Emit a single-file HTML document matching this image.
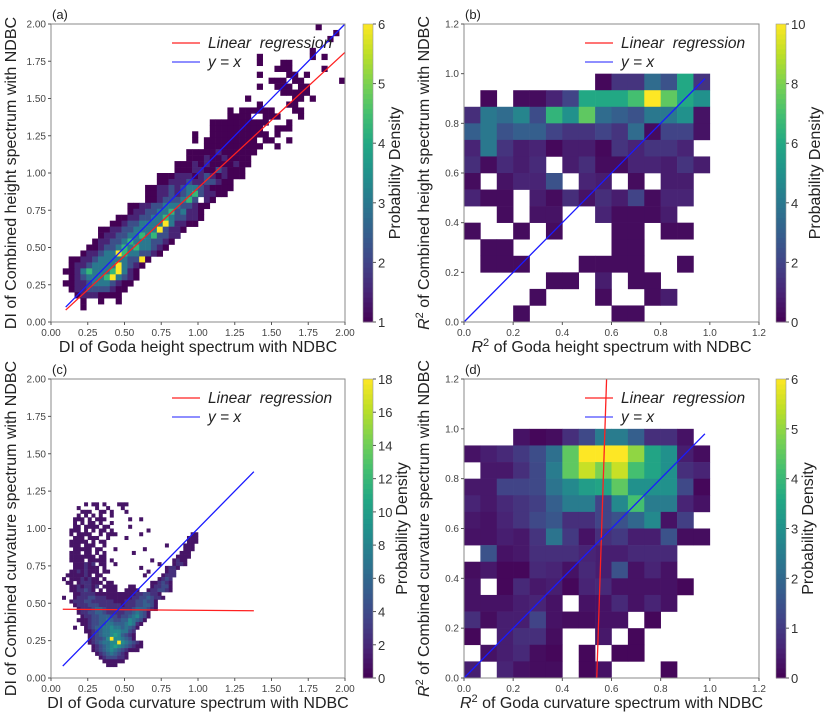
<!DOCTYPE html>
<html><head><meta charset="utf-8"><style>
body{margin:0;background:#fff;}
svg{display:block;font-family:"Liberation Sans","DejaVu Sans",sans-serif;}
</style></head><body>
<svg id="fig" width="825" height="718" viewBox="0 0 825 718" xmlns="http://www.w3.org/2000/svg"></svg>
<script>
// ---------- DATA ----------
const aRows = [
[[45,"1"]],[[48,"1"]],[[47,"1"]],[],[[44,"1"]],
[[35,"1"],[44,"1"],[46,"1"]],[[35,"1"],[39,"11"]],[[38,"111"],[46,"1"]],
[[35,"1"],[40,"11"],[43,"1"]],[[37,"111"],[41,"11"],[49,"1"]],
[[35,"1"],[38,"111"],[42,"11"]],[[39,"111"],[42,"11"]],[[33,"1"],[41,"11"],[44,"1"]],
[[35,"1"],[40,"11"]],[[30,"1"],[32,"111111"],[41,"11"]],[[30,"1111"],[36,"111"],[42,"1"]],
[[27,"1111111111"],[40,"1"]],[[27,"111111111"],[38,"111"]],[[24,"1"],[27,"1111111111"],[38,"1"]],
[[24,"1"],[26,"111111111"],[36,"11"],[40,"1"]],[[26,"1111111111"],[38,"1"]],
[[23,"111112111111"]],[[23,"11121121111"]],[[21,"1112121111211"]],[[21,"111221132111"]],
[[18,"111222123212111"]],[[18,"1122232233211"]],[[16,"112232344321111"]],[[16,"11223234532211"]],
[[16,"112333453"],[26,"21"]],[[13,"11223344433211"]],[[13,"1223344534221"]],[[11,"112233445433221"]],
[[10,"112334444642211"]],[[8,"112233444463221"]],[[8,"12233445453322"]],[[7,"12233454443321"]],
[[6,"11233454544321"]],[[5,"12234465443321"]],[[3,"11223444443361"]],[[3,"1223444464321"]],
[[2,"1124544456421"]],[[3,"123444564321"]],[[2,"112234443211"]],[[3,"1223333211"]],
[[4,"12221111"]],[[5,"1"],[8,"1"],[11,"1"]],[[5,"1"]],[],[]
];
const aLevel = [0,1,1.5,2.2,3.0,4.3,6];
const cRowK = [46,45,44,43,42,41,40,39,38,37,36,35,34,33,32,31,30,29,28,27,26,25,24,23,22,21,20,19,18,17,16,15,14,13,12,11,10,9,8,7,6,5,4,3];
const cRows = [
[[9,"1"],[11,"11"],[14,"1"],[18,"111"]],[[7,"1"],[12,"1"],[15,"1"],[19,"1"]],
[[8,"11"],[10,"1"],[13,"11"],[16,"1"],[20,"1"]],[[7,"1"],[9,"1"],[11,"1"],[13,"1"],[16,"1"]],
[[6,"111"],[10,"1"],[12,"111"],[21,"1"],[24,"1"]],[[6,"1"],[8,"1"],[10,"11"],[13,"1"],[16,"1"]],
[[6,"11"],[9,"111"],[12,"1"],[14,"11"],[21,"1"]],[[5,"111"],[9,"1"],[11,"1"],[13,"11"],[16,"1"],[26,"1"]],
[[5,"1"],[7,"1111"],[13,"1"],[15,"111"],[24,"1"],[38,"11"]],[[6,"111"],[10,"111"],[15,"1"],[20,"1"],[37,"111"]],
[[5,"11111"],[11,"1"],[13,"11"],[37,"111"]],[[5,"111"],[9,"111"],[14,"1"],[31,"1"],[36,"111"]],
[[6,"11111"],[12,"11"],[17,"1"],[25,"1"],[36,"111"]],[[5,"111"],[9,"11"],[12,"1"],[14,"1"],[22,"1"],[35,"111"]],
[[5,"1111111"],[13,"11"],[34,"1111"]],[[5,"1111"],[10,"11111"],[16,"1"],[27,"1"],[33,"1211"]],
[[6,"111212"],[13,"11"],[17,"1"],[29,"1"],[33,"1221"]],[[6,"1112111"],[14,"1"],[24,"1"],[31,"1221"]],
[[5,"11212111"],[14,"11"],[26,"1"],[31,"122"]],[[4,"1111121"],[12,"11"],[25,"1"],[30,"1222"]],
[[3,"1"],[5,"11121211"],[14,"1"],[29,"1232"]],[[4,"11"],[7,"1222111"],[15,"11"],[27,"112321"]],
[[5,"11212212"],[14,"1111"],[21,"11"],[27,"122331"]],[[5,"1122321"],[13,"1"],[15,"111"],[20,"1111"],[26,"1223321"]],
[[6,"1122221111111"],[19,"11112233221"]],[[3,"1"],[6,"1222332221111111223343221"]],
[[5,"122233222222111222334331"]],[[6,"12223332222221222334431"]],[[7,"1222344322222223444321"]],
[[7,"12233443222223345431"]],[[8,"1223344433233456431"]],[[7,"1112334454334465431"]],
[[8,"11233445544456521"]],[[6,"1"],[9,"123445565545431"]],[[9,"11234556665532"]],
[[10,"1234556764321"]],[[10,"1233469665431"]],[[10,"123455669654321"]],[[11,"12345676543211"]],
[[11,"1234565432111"]],[[12,"123454321"]],[[13,"12333221"]],[[14,"111111"]],[[15,"111"]]
];
const cLevel = [0,1,2.5,4,5.5,7,8.5,10,12,18];
const bGrid = [
[null,null,null,null,null,null,null,null,0.2,1.5,1.5,3.5,2.5,6,1.5],
[null,0.2,null,0.3,0.3,1,2,6,6,6,7,10,7.5,6,5],
[1.3,4,3.5,4.5,2.3,6.5,5,7.5,3.5,3,2.5,4,4,5,0.5],
[3,4,2.5,3,3,2,1.5,1.5,2,1.5,3.5,0.3,2,2,0.5],
[1,4,1.5,0.8,1,0.2,0.8,0.8,0.2,1.5,1,1.5,1.5,1,null],
[1.3,0.3,1.2,0.8,1.2,null,0.8,1.3,0.3,0.3,1,1,0.8,1.5,0.8],
[0.3,null,0.5,1,1,2.5,null,1,0.8,null,0.3,null,0.8,0.8,null],
[1,0.3,0.3,null,0.8,0.3,1.3,0.5,1.3,0.8,2,0.3,1,1,null],
[null,null,0.3,null,0.5,0.5,null,null,1,0.3,0.3,0.3,0.8,null,null],
[0.3,null,null,0.3,null,0.3,null,null,null,0.3,0.3,null,0.3,0.3,null],
[null,0.3,0.3,null,null,null,null,null,null,0.3,0.3,null,null,null,null],
[null,0.3,0.3,0.3,null,null,null,0.3,0.3,0.3,0.3,null,null,0.3,null],
[null,null,null,null,null,0.3,0.3,null,0.8,null,0.3,0.3,null,null,null],
[null,null,null,null,0.3,null,null,null,0.3,null,null,0.3,0.8,null,null],
[null,null,null,0.3,null,null,null,null,null,0.3,0.3,null,null,null,null]
];
const dGrid = [
[null,null,null,0.3,0.1,0.2,0.8,1.3,2.5,2.5,1.8,0.8,0.8,0.3,null],
[0.3,0.5,0.7,1.0,1.4,2.2,4.5,6,6,6,5,3.5,3,0.5,0.2],
[null,0.4,0.4,0.8,1.3,2.5,4.5,5.5,4.8,5.5,4.2,3.5,3,0.8,0.6],
[0.4,0.4,1.2,1.2,1.3,2.3,2.8,3.3,3.5,4.5,3,3,3,1.3,0.1],
[0.6,0.4,0.7,0.9,1.1,1.8,2.5,2.5,1.2,2.8,4.2,2.5,2.5,0.6,0.3],
[0.4,0.3,0.6,0.9,1.3,1.6,0.8,0.8,1.2,1.5,2,2.8,0.3,1.1,null],
[0.3,0.3,0.5,0.4,0.9,2.3,1,0.3,0.8,1,0.5,0.5,1.5,0.2,0.2],
[null,1.5,0.3,0.4,0.8,0.8,0.8,0.6,0.5,0.5,0.7,0.7,0.7,null,null],
[0.2,0.4,0.1,0.1,0.7,0.6,0.3,0.7,0.5,1.5,0.3,0.6,0.3,null,null],
[0.3,null,0.1,0.7,0.4,0.5,0.1,0.6,0.7,0.3,0.3,0.3,0.3,0.1,null],
[0.3,0.3,0.3,0.5,0.6,0.3,null,0.3,0.3,0.7,0.3,0.6,0.3,null,null],
[0.8,0.2,0.5,0.5,1.2,0.3,0.2,0.2,0.3,0.3,null,0.1,null,null,null],
[0.1,null,0.5,0.8,0.8,0.2,null,null,0.4,null,0.1,null,null,null,null],
[null,0.3,0.5,0.7,0.2,0.1,null,0.1,null,0.1,0.1,null,null,null,null],
[0.5,null,0.6,0.3,0.2,0.2,null,0.1,0.3,null,null,null,0.1,null,null]
];
const aTicks = [0,0.25,0.5,0.75,1,1.25,1.5,1.75,2];
const bTicks = [0,0.2,0.4,0.6,0.8,1.0,1.2];
const aCbTicks = [1,2,3,4,5,6];
const bCbTicks = [0,2,4,6,8,10];
const cCbTicks = [0,2,4,6,8,10,12,14,16,18];
const dCbTicks = [0,1,2,3,4,5,6];
const aRed = [0.1,0.08,2.0,1.81], aBlue = [0.1,0.1,2.0,2.0];
const bBlue = [0,0,0.98,0.98];
const cRed = [0.08,0.46,1.38,0.45], cBlue = [0.08,0.08,1.38,1.38];
const dRed = [0.54,0,0.58,1.2], dBlue = [0,0,0.98,0.98];

// ---------- DRAW ----------
const NS="http://www.w3.org/2000/svg";
const svg=document.getElementById('fig');
function mk(tag,attrs,parent){const e=document.createElementNS(NS,tag);for(const k in attrs)e.setAttribute(k,attrs[k]);(parent||svg).appendChild(e);return e;}
const VS=[[0,[68,1,84]],[0.1,[72,36,117]],[0.2,[65,68,135]],[0.3,[53,95,141]],[0.4,[42,120,142]],[0.5,[33,145,140]],[0.6,[34,168,132]],[0.7,[68,191,112]],[0.8,[122,209,81]],[0.9,[189,223,38]],[1,[253,231,37]]];
function viridis(t){t=Math.max(0,Math.min(1,t));for(let i=1;i<VS.length;i++){if(t<=VS[i][0]){const a=VS[i-1],b=VS[i],f=(t-a[0])/(b[0]-a[0]);const c=a[1].map((v,j)=>Math.round(v+(b[1][j]-v)*f));return `rgb(${c})`;}}return 'rgb(253,231,37)';}

function panel(P){
  const g=mk('g',{});
  
  
  const sx=v=>P.L+(v-P.min)/(P.max-P.min)*P.W;
  const sy=v=>P.T+P.H-(v-P.min)/(P.max-P.min)*P.H;
  P.sx=sx;P.sy=sy;P.g=g;
  return P;
}
function cell(P,x0,y0,size,val){
  const r=mk('rect',{x:P.sx(x0),y:P.sy(y0+size),width:P.sx(x0+size)-P.sx(x0)+0.3,height:P.sy(y0)-P.sy(y0+size)+0.3,fill:viridis((val-P.vmin)/(P.vmax-P.vmin))},P.g);
  
  
}
function finish(P,ticks,fmt,cbTicks,xlab,ylab,red,blue,r2){
  const g=P.g;
  if(red){const l=mk('line',{x1:P.sx(red[0]),y1:P.sy(red[1]),x2:P.sx(red[2]),y2:P.sy(red[3]),stroke:'#ff2020','stroke-width':1.3},g);
    
    }
  const b=mk('line',{x1:P.sx(blue[0]),y1:P.sy(blue[1]),x2:P.sx(blue[2]),y2:P.sy(blue[3]),stroke:'#1a1aff','stroke-width':1.3},g);
  
  
  const f=mk('rect',{x:P.L,y:P.T,width:P.W,height:P.H,fill:'none',stroke:'#8a8a8a','stroke-width':1},g);
  
  
  ticks.forEach(t=>{
    mk('line',{x1:P.sx(t),x2:P.sx(t),y1:P.T+P.H,y2:P.T+P.H+3,stroke:'#555'},g);
    const tx=mk('text',{x:P.sx(t),y:P.T+P.H+14,'font-size':10,fill:'#444','text-anchor':'middle'},g);tx.textContent=fmt(t);
    
    
    mk('line',{x1:P.L-3,x2:P.L,y1:P.sy(t),y2:P.sy(t),stroke:'#555'},g);
    const ty=mk('text',{x:P.L-5,y:P.sy(t)+3.5,'font-size':10,fill:'#444','text-anchor':'end'},g);ty.textContent=fmt(t);
    
    
  });
  const xl=mk('text',{x:P.L+P.W/2,y:P.T+P.H+30,'font-size':16,fill:'#222','text-anchor':'middle'},g);
  
  
  const yl=mk('text',{x:0,y:0,'font-size':16,fill:'#222','text-anchor':'middle',transform:`translate(${P.L-35},${P.T+P.H/2}) rotate(-90)`},g);
  
  
  if(r2){
    xl.innerHTML='<tspan font-style="italic">R</tspan><tspan font-size="11" dy="-6">2</tspan><tspan dy="6"> '+xlab+'</tspan>';
    yl.innerHTML='<tspan font-style="italic">R</tspan><tspan font-size="11" dy="-6">2</tspan><tspan dy="6"> '+ylab+'</tspan>';
  } else {xl.textContent=xlab;yl.textContent=ylab;}
  const pl=mk('text',{x:P.L+1,y:P.T-5,'font-size':13,fill:'#222'},g);pl.textContent='('+P.id+')';
  
  
  const lg=mk('g',{},g);
  
  
  mk('line',{x1:P.L+121,x2:P.L+149,y1:P.T+19,y2:P.T+19,stroke:'#ff2020','stroke-width':1.3},lg);
  mk('line',{x1:P.L+121,x2:P.L+149,y1:P.T+38,y2:P.T+38,stroke:'#4a4aff','stroke-width':1.3},lg);
  const t1=mk('text',{x:P.L+157,y:P.T+24,'font-size':15.5,'font-style':'italic',fill:'#222'},lg);t1.textContent='Linear\u00a0 regression';
  
  
  const t2=mk('text',{x:P.L+157,y:P.T+43,'font-size':15.5,'font-style':'italic',fill:'#222'},lg);t2.textContent='y = x';
  
  
  const cb=mk('g',{},g);
  
  
  const n=60;
  for(let i=0;i<n;i++){mk('rect',{x:P.CB,y:P.T+P.H-(i+1)*P.H/n,width:10,height:P.H/n+0.5,fill:viridis((i+0.5)/n)},cb);}
  mk('rect',{x:P.CB,y:P.T,width:10,height:P.H,fill:'none',stroke:'#999','stroke-width':0.6},cb);
  cbTicks.forEach(t=>{const y=P.T+P.H-(t-P.vmin)/(P.vmax-P.vmin)*P.H;
    mk('line',{x1:P.CB+10,x2:P.CB+13,y1:y,y2:y,stroke:'#555'},cb);
    const tt=mk('text',{x:P.CB+15,y:y+5,'font-size':13,fill:'#333'},cb);tt.textContent=t;
    
    });
  const ct=mk('text',{x:0,y:0,'font-size':16,fill:'#222','text-anchor':'middle',transform:`translate(${P.CB+P.CT},${P.T+P.H/2}) rotate(-90)`},cb);
  ct.textContent='Probability Density';
  
  
}

const A=panel({id:'a',L:51,T:24,W:294,H:298,min:0,max:2,vmin:1,vmax:6,CB:363,CT:37});
aRows.forEach((segs,r)=>{segs.forEach(([c0,s])=>{[...s].forEach((ch,i)=>{if(ch!=='.')cell(A,(c0+i)*0.04,(49-r)*0.04,0.04,aLevel[+ch]);});});});
finish(A,aTicks,t=>t.toFixed(2),aCbTicks,'DI of Goda height spectrum with NDBC','DI of Combined height spectrum with NDBC',aRed,aBlue,false);

const B=panel({id:'b',L:464,T:24,W:295,H:298,min:0,max:1.2,vmin:0,vmax:10,CB:776,CT:44});
bGrid.forEach((row,r)=>row.forEach((v,c)=>{if(v!==null)cell(B,c/15,(14-r)/15,1/15,v);}));
finish(B,bTicks,t=>t.toFixed(1),bCbTicks,'of Goda height spectrum with NDBC','of Combined height spectrum with NDBC',null,bBlue,true);

const C=panel({id:'c',L:51,T:379,W:294,H:299,min:0,max:2,vmin:0,vmax:18,CB:363,CT:44});
cRows.forEach((segs,r)=>{const k=cRowK[r];segs.forEach(([c0,s])=>{[...s].forEach((ch,i)=>{if(ch!=='.')cell(C,(c0+i)*0.025,k*0.025,0.025,cLevel[+ch]);});});});
finish(C,aTicks,t=>t.toFixed(2),cCbTicks,'DI of Goda curvature spectrum with NDBC','DI of Combined curvature spectrum with NDBC',cRed,cBlue,false);

const D=panel({id:'d',L:464,T:379,W:295,H:299,min:0,max:1.2,vmin:0,vmax:6,CB:776,CT:37});
dGrid.forEach((row,r)=>row.forEach((v,c)=>{if(v!==null)cell(D,c/15,(14-r)/15,1/15,v);}));
finish(D,bTicks,t=>t.toFixed(1),dCbTicks,'of Goda curvature spectrum with NDBC','of Combined curvature spectrum with NDBC',dRed,dBlue,true);
</script>
</body></html>
